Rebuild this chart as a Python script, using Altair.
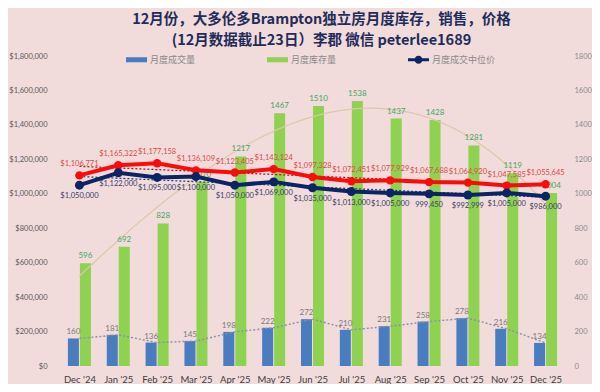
import json
import altair as alt
import pandas as pd

months = ["Dec '24", "Jan '25", "Feb '25", "Mar '25", "Apr '25", "May '25", "Jun '25",
          "Jul '25", "Aug '25", "Sep '25", "Oct '25", "Nov '25", "Dec '25"]
sales = [160, 181, 136, 145, 198, 222, 272, 210, 231, 258, 278, 216, 134]
inventory = [596, 692, 828, 1070, 1217, 1467, 1510, 1538, 1437, 1428, 1281, 1119, 1004]
median_price = [1050000, 1122000, 1095000, 1100000, 1050000, 1069000, 1035000,
                1013000, 1005000, 999450, 992999, 1005000, 986000]
median_labels = ["$1,050,000", "$1,122,000", "$1,095,000", "$1,100,000", "$1,050,000",
                 "$1,069,000", "$1,035,000", "$1,013,000", "$1,005,000", "999,450",
                 "$992,999", "$1,005,000", "$986,000"]
avg_price = [1106771, 1165322, 1177158, 1136109, 1123405, 1143124, 1097328,
             1072451, 1077929, 1067688, 1064920, 1047585, 1055645]
avg_labels = ["$1,106,771", "$1,165,322", "$1,177,158", "$1,136,109", "$1,123,405",
              "$1,143,124", "$1,097,328", "$1,072,451", "$1,077,929", "$1,067,688",
              "$1,064,920", "$1,047,585", "$1,055,645"]
legend_names = ["月度成交量", "月度库存量", "月度成交中位价"]
title_lines = ["12月份，大多伦多Brampton独立房月度库存，销售，价格",
               "(12月数据截止23日）李郡  微信 peterlee1689"]

BLUE = "#4a7cc0"
GREEN = "#8fd150"
NAVY = "#0b2466"
RED = "#ff0a0a"
BG = "#f1dbdb"
NUMFONT = "Lato"

df = pd.DataFrame({
    "idx": list(range(len(months))),
    "month": months,
    "sales": sales,
    "inv": inventory,
    "median": median_price,
    "mlabel": median_labels,
    "avg": avg_price,
    "alabel": avg_labels,
})

base = alt.Chart(df)
xscale = alt.Scale(domain=[-0.5, len(months) - 0.5], nice=False, zero=False)
x_enc = alt.X("idx:Q", scale=xscale, axis=alt.Axis(
    values=list(range(len(months))), labelExpr=json.dumps(months) + "[datum.value]",
    grid=False, ticks=False, domain=False, title=None, labelFont=NUMFONT,
    labelFontSize=9.5, labelColor="#404040", labelPadding=8))

cnt_scale = alt.Scale(domain=[0, 1800], nice=False, zero=True)
prc_scale = alt.Scale(domain=[0, 1800000], nice=False, zero=True)

green_bars = base.mark_bar(color=GREEN, width=11, xOffset=6).encode(
    x=x_enc, y=alt.Y("inv:Q", scale=cnt_scale, axis=alt.Axis(
        orient="right", values=list(range(0, 1801, 200)), format="d", grid=False,
        ticks=False, domain=False, title=None, labelFont=NUMFONT, labelFontSize=7.5,
        labelColor="#8c8c8c", labelPadding=4)))
blue_bars = base.mark_bar(color=BLUE, width=11, xOffset=-6).encode(
    x=x_enc, y=alt.Y("sales:Q", scale=cnt_scale, axis=None))

inv_trend = base.transform_regression("idx", "inv", method="poly", order=3).mark_line(
    color="#dcc8aa", strokeWidth=1.2).encode(
    x=x_enc, y=alt.Y("inv:Q", scale=cnt_scale, axis=None))
sales_trend = base.transform_loess("idx", "sales", bandwidth=0.25).mark_line(
    color="#8a90a8", strokeWidth=1.4, strokeDash=[2, 2]).encode(
    x=x_enc, y=alt.Y("sales:Q", scale=cnt_scale, axis=None))

sales_text = base.mark_text(fontSize=8, font=NUMFONT, color="#7a7a7a", baseline="bottom",
                            dy=-2, xOffset=-6).encode(
    x=x_enc, y=alt.Y("sales:Q", scale=cnt_scale, axis=None), text="sales:Q")
inv_text = base.mark_text(fontSize=8, font=NUMFONT, color="#45a865", baseline="bottom",
                          dy=-3, xOffset=6).encode(
    x=x_enc, y=alt.Y("inv:Q", scale=cnt_scale, axis=None), text="inv:Q")

avg_trend = base.transform_regression("idx", "avg").mark_line(
    color="#9b1c1c", strokeWidth=1.2, strokeDash=[2, 2]).encode(
    x=x_enc, y=alt.Y("avg:Q", scale=prc_scale, axis=None))
med_trend = base.transform_regression("idx", "median").mark_line(
    color="#2a3a6a", strokeWidth=1.2, strokeDash=[2, 2]).encode(
    x=x_enc, y=alt.Y("median:Q", scale=prc_scale, axis=None))

avg_line = base.mark_line(color=RED, strokeWidth=4).encode(
    x=x_enc, y=alt.Y("avg:Q", scale=prc_scale, axis=alt.Axis(
        orient="left", values=list(range(0, 1800001, 200000)), format="$,.0f",
        grid=False, ticks=False, domain=False, title=None, labelFont=NUMFONT,
        labelFontSize=7.5, labelColor="#5a5a5a", labelPadding=8)))
avg_pts = base.mark_circle(color=RED, size=70, opacity=1).encode(
    x=x_enc, y=alt.Y("avg:Q", scale=prc_scale, axis=None))
med_line = base.mark_line(color=NAVY, strokeWidth=4).encode(
    x=x_enc, y=alt.Y("median:Q", scale=prc_scale, axis=None))
med_pts = base.mark_circle(color=NAVY, size=80, opacity=1).encode(
    x=x_enc, y=alt.Y("median:Q", scale=prc_scale, axis=None))

avg_text = base.mark_text(fontSize=7.5, font=NUMFONT, color="#e04848", baseline="bottom",
                          dy=-7).encode(
    x=x_enc, y=alt.Y("avg:Q", scale=prc_scale, axis=None), text="alabel:N")
med_text = base.mark_text(fontSize=7.5, font=NUMFONT, color="#3a4068", baseline="top",
                          dy=7).encode(
    x=x_enc, y=alt.Y("median:Q", scale=prc_scale, axis=None), text="mlabel:N")

rect_path = "M-1,-0.24H1V0.24H-1Z"
line_path = ("M-1,-0.14H1V0.14H-1Z M0.38,0 A0.38,0.38 0 1 1 -0.38,0 "
             "A0.38,0.38 0 1 1 0.38,0Z")
leg = alt.Legend(orient="none", legendX=71, legendY=-7, direction="horizontal",
                 columns=3, title=None, symbolSize=441, symbolStrokeWidth=0,
                 symbolOpacity=1, labelFont="Noto Sans CJK SC", labelFontSize=9,
                 labelColor="#8a8a8a", columnPadding=71, labelOffset=3)
legend_layer = alt.Chart(pd.DataFrame({"series": legend_names})).transform_filter(
    "false").mark_point(filled=True, opacity=1).encode(
    x=x_enc,
    y=alt.Y("series:N", axis=None),
    color=alt.Color("series:N", scale=alt.Scale(domain=legend_names,
                                                range=[BLUE, GREEN, NAVY]), legend=leg),
    shape=alt.Shape("series:N", scale=alt.Scale(domain=legend_names,
                                                range=[rect_path, rect_path, line_path]),
                    legend=leg),
)

chart = alt.layer(
    green_bars, blue_bars, inv_trend, sales_trend, sales_text, inv_text,
    avg_trend, med_trend, avg_line, med_line, avg_pts, med_pts, avg_text, med_text,
    legend_layer,
).resolve_scale(y="independent").properties(
    width=515, height=310,
    background=BG,
    padding={"left": 47, "top": 48, "right": 22, "bottom": 18},
    autosize=alt.AutoSizeParams(type="none"),
    title=alt.TitleParams(text=title_lines, anchor="middle", fontSize=14.5,
                          font="Noto Sans CJK SC", fontWeight="bold", color="#1f2d5a",
                          offset=10, lineHeight=21, dx=9, dy=9),
).configure_view(stroke=None)

chart.save("out.html", embed_options={"renderer": "svg", "actions": False})
